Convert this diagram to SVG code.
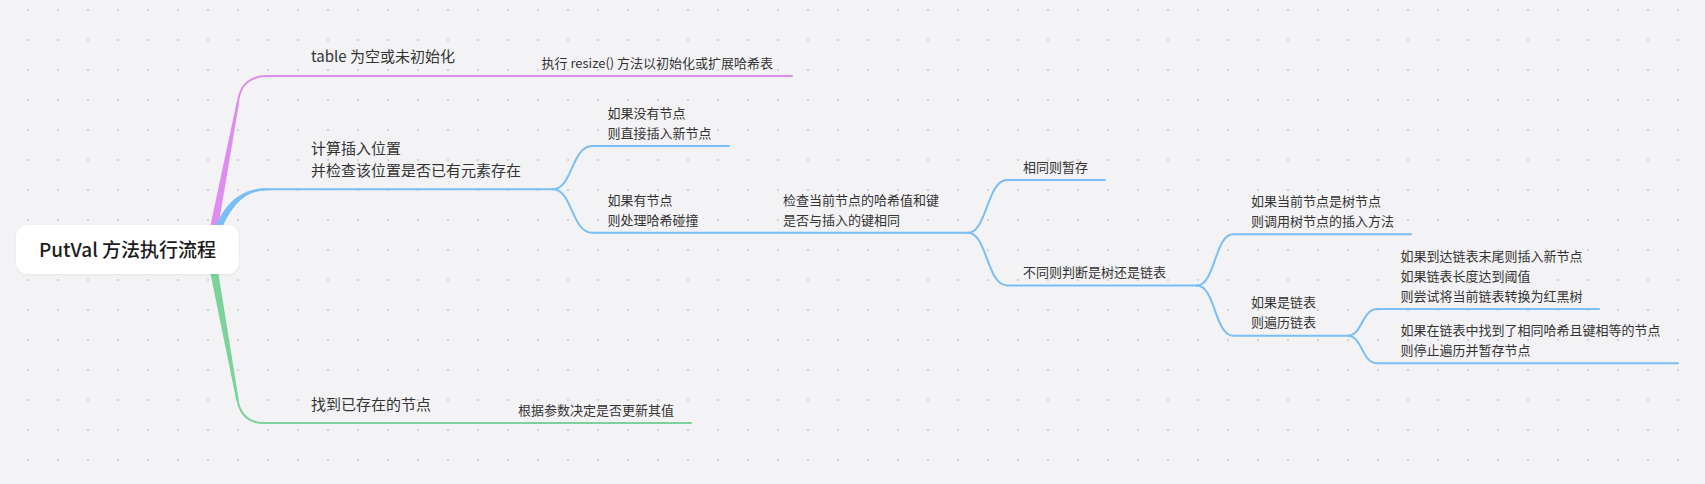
<svg xmlns="http://www.w3.org/2000/svg" width="1705" height="484" viewBox="0 0 1705 484">
<defs>
<pattern id="dots" x="13" y="-5" width="30" height="30" patternUnits="userSpaceOnUse"><circle cx="15" cy="15" r="1.1" fill="#cbcbd0"/></pattern>
<filter id="sh" x="-10%" y="-20%" width="120%" height="160%"><feDropShadow dx="0" dy="1" stdDeviation="1.5" flood-color="#000" flood-opacity="0.06"/></filter>
<style>
.t1{font-family:"Noto Sans CJK SC","Noto Sans",sans-serif;font-size:15px;fill:#333}
.t2{font-family:"Noto Sans CJK SC","Noto Sans",sans-serif;font-size:13px;fill:#333}
.rt{font-family:"Noto Sans CJK SC","Noto Sans",sans-serif;font-size:19px;font-weight:500;fill:#1c1c1c}
.c{fill:none;stroke-width:2;stroke-linecap:round;stroke-linejoin:round}
.p{stroke:#de8cf0}.b{stroke:#7abef6}.g{stroke:#7bd39b}
.fp{fill:#de8cf0}.fb{fill:#7abef6}.fg{fill:#7bd39b}
</style>
</defs>
<rect width="1705" height="484" fill="#f3f3f5"/>
<rect width="1705" height="484" fill="url(#dots)"/>
<g id="connectors">
<path class="c p" d="M210,249 L238,102 Q241.3,76 267,76 L792,76"/>
<polygon class="fp" points="205.6,248.2 214.4,249.8 239.2,102.2 236.8,101.8"/>
<path class="c g" d="M210,249 L237.5,400 Q241.7,423 264,423 L691,423"/>
<polygon class="fg" points="214.4,248.2 205.6,249.8 236.3,400.2 238.7,399.8"/>
<path class="c b" d="M210,249 C222,215 236,189.3 267,189.3 L553,189.3"/>
<path class="fb" d="M207,248 C219,212 233,188.3 267,188.3 L267,190.3 C237,190.3 225,218 213,250 Z"/>
<path class="c b" d="M553,189.3 C572,189.3 572,146 592,146 L729,146"/>
<path class="c b" d="M553,189.3 C572,189.3 572,232.7 592,232.7 L968,232.7"/>
<path class="c b" d="M968,232.7 C987,232.7 987,180 1007,180 L1105,180"/>
<path class="c b" d="M968,232.7 C987,232.7 987,285.5 1007,285.5 L1197,285.5"/>
<path class="c b" d="M1197,285.5 C1215,285.5 1215,234.3 1233,234.3 L1411,234.3"/>
<path class="c b" d="M1197,285.5 C1215,285.5 1215,335.7 1233,335.7 L1348,335.7"/>
<path class="c b" d="M1348,335.7 C1362,335.7 1362,309 1377,309 L1599,309"/>
<path class="c b" d="M1348,335.7 C1362,335.7 1362,363.3 1377,363.3 L1678,363.3"/>
</g>
<g id="root">
<rect x="16" y="225" width="223" height="49" rx="12" fill="#ffffff" filter="url(#sh)"/>
<text class="rt" x="127.5" y="257" text-anchor="middle">PutVal 方法执行流程</text>
</g>
<g id="n-table"><text class="t1" x="311" y="62">table 为空或未初始化</text></g>
<g id="n-resize"><text class="t2" x="541.5" y="68">执行 resize() 方法以初始化或扩展哈希表</text></g>
<g id="n-calc"><text class="t1" x="311" y="153.5"><tspan x="311">计算插入位置</tspan><tspan x="311" y="175.5">并检查该位置是否已有元素存在</tspan></text></g>
<g id="n-nonode"><text class="t2" y="118"><tspan x="607.5">如果没有节点</tspan><tspan x="607.5" y="138">则直接插入新节点</tspan></text></g>
<g id="n-hasnode"><text class="t2" y="205"><tspan x="607.5">如果有节点</tspan><tspan x="607.5" y="225">则处理哈希碰撞</tspan></text></g>
<g id="n-check"><text class="t2" y="205"><tspan x="783">检查当前节点的哈希值和键</tspan><tspan x="783" y="225">是否与插入的键相同</tspan></text></g>
<g id="n-same"><text class="t2" x="1023" y="172">相同则暂存</text></g>
<g id="n-diff"><text class="t2" x="1023" y="277">不同则判断是树还是链表</text></g>
<g id="n-tree"><text class="t2" y="206"><tspan x="1251">如果当前节点是树节点</tspan><tspan x="1251" y="226">则调用树节点的插入方法</tspan></text></g>
<g id="n-list"><text class="t2" y="307"><tspan x="1251">如果是链表</tspan><tspan x="1251" y="327">则遍历链表</tspan></text></g>
<g id="n-tail"><text class="t2" y="260.5"><tspan x="1400.5">如果到达链表末尾则插入新节点</tspan><tspan x="1400.5" y="280.5">如果链表长度达到阈值</tspan><tspan x="1400.5" y="300.5">则尝试将当前链表转换为红黑树</tspan></text></g>
<g id="n-found"><text class="t2" y="334.5"><tspan x="1400.5">如果在链表中找到了相同哈希且键相等的节点</tspan><tspan x="1400.5" y="354.5">则停止遍历并暂存节点</tspan></text></g>
<g id="n-exist"><text class="t1" x="311" y="410">找到已存在的节点</text></g>
<g id="n-update"><text class="t2" x="518" y="415">根据参数决定是否更新其值</text></g>
</svg>
